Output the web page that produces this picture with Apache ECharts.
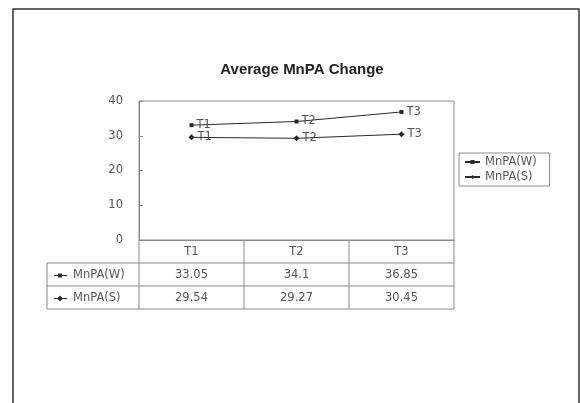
<!DOCTYPE html>
<html><head><meta charset="utf-8">
<script src="https://cdn.jsdelivr.net/npm/echarts@6/dist/echarts.min.js"></script>
<style>html,body{margin:0;padding:0;background:#fff}#c{width:580px;height:403px}</style>
</head><body><div id="c"></div>
<script>
const categories = ['T1', 'T2', 'T3'];
const seriesNames = ['MnPA(W)', 'MnPA(S)'];
const valuesW = [33.05, 34.1, 36.85];
const valuesS = [29.54, 29.27, 30.45];
const yMin = 0, yMax = 40, yStep = 10;
const titleText = 'Average MnPA Change';

const font = '"DejaVu Sans", Arial, sans-serif';
const titleFont = '"Liberation Sans", Arial, sans-serif';
const lineColor = '#2a2a2a';
const gridColor = '#8a8a8a';
const textColor = '#555';

const chart = echarts.init(document.getElementById('c'));
chart.setOption({
  animation: false,
  textStyle: { fontFamily: font },
  title: {
    text: titleText, left: 297, top: 57, textAlign: 'center',
    textStyle: { fontFamily: titleFont, fontWeight: 'bold', fontSize: 15, color: '#222' }
  },
  grid: { left: 139, right: 126, top: 101, bottom: 163, show: true, borderColor: gridColor, borderWidth: 1 },
  legend: {
    data: seriesNames, orient: 'vertical', left: 459, top: 153,
    itemWidth: 15, itemHeight: 5, itemGap: 3, padding: [3, 13, 3, 5],
    borderColor: gridColor, borderWidth: 1,
    textStyle: { fontFamily: font, fontSize: 11.5, color: textColor }
  },
  xAxis: {
    type: 'category', data: categories, boundaryGap: true,
    axisLine: { show: true, lineStyle: { color: gridColor } },
    axisTick: { show: false }, axisLabel: { show: false }
  },
  yAxis: {
    type: 'value', min: yMin, max: yMax, interval: yStep,
    axisLine: { show: true, lineStyle: { color: gridColor } },
    axisTick: { show: true, inside: true, length: 4, lineStyle: { color: gridColor } },
    splitLine: { show: false },
    axisLabel: { color: textColor, fontSize: 11.5, margin: 16, fontFamily: font }
  },
  series: [
    {
      name: seriesNames[0], type: 'line', data: valuesW, symbol: 'rect', symbolSize: 4,
      lineStyle: { color: lineColor, width: 1 }, itemStyle: { color: lineColor },
      label: { show: true, position: 'right', formatter: '{b}', color: textColor, fontSize: 11.5, distance: 3, fontFamily: font }
    },
    {
      name: seriesNames[1], type: 'line', data: valuesS, symbol: 'diamond', symbolSize: 6,
      lineStyle: { color: lineColor, width: 1 }, itemStyle: { color: lineColor },
      label: { show: true, position: 'right', formatter: '{b}', color: textColor, fontSize: 11.5, distance: 3, fontFamily: font }
    }
  ]
});

// Build frame + data table from the arrays, positioned via the chart's own scales
const xs = categories.map(c => chart.convertToPixel({ xAxisIndex: 0 }, c));
const half = (xs[1] - xs[0]) / 2;
const tLeft = xs[0] - half, tRight = xs[xs.length - 1] + half;
const y0 = chart.convertToPixel({ yAxisIndex: 0 }, yMin);
const headH = 23, rowH = 23, labelLeft = 47;
const rows = [valuesW, valuesS];
const symbols = ['rect', 'diamond'];
const g = [];
const line = (x1, y1, x2, y2) => g.push({ type: 'line', shape: { x1, y1, x2, y2 }, style: { stroke: gridColor, lineWidth: 1 }, silent: true });
const text = (x, y, t, align) => g.push({ type: 'text', x, y, style: { text: t, fill: textColor, font: '11.5px ' + font, textAlign: align || 'center', textVerticalAlign: 'middle' }, silent: true });

// chart area frame
g.push({ type: 'rect', shape: { x: 13, y: 9, width: 566, height: 430 }, style: { fill: null, stroke: '#333', lineWidth: 1.5 }, silent: true });

const hBottom = y0 + headH;
const tBottom = hBottom + rowH * rows.length;
line(tLeft, hBottom, tRight, hBottom);
categories.forEach((c, i) => text(xs[i], y0 + headH / 2 + 1, c));
for (let i = 0; i <= categories.length; i++) {
  const x = tLeft + i * 2 * half;
  line(x, y0, x, tBottom);
}
line(labelLeft, hBottom, labelLeft, tBottom);
line(labelLeft, hBottom, tLeft, hBottom);
rows.forEach((vals, r) => {
  const yb = hBottom + rowH * (r + 1);
  line(labelLeft, yb, tRight, yb);
  const yc = hBottom + rowH * r + rowH / 2 + 1;
  vals.forEach((v, i) => text(xs[i], yc, String(v)));
  g.push({ type: 'line', shape: { x1: labelLeft + 7, y1: yc, x2: labelLeft + 20, y2: yc }, style: { stroke: lineColor, lineWidth: 1 }, silent: true });
  if (symbols[r] === 'rect') {
    g.push({ type: 'rect', shape: { x: labelLeft + 11, y: yc - 2, width: 4, height: 4 }, style: { fill: lineColor }, silent: true });
  } else {
    g.push({ type: 'polygon', shape: { points: [[labelLeft + 13, yc - 3], [labelLeft + 16, yc], [labelLeft + 13, yc + 3], [labelLeft + 10, yc]] }, style: { fill: lineColor }, silent: true });
  }
  g.push({ type: 'text', x: labelLeft + 26, y: yc, style: { text: seriesNames[r], fill: textColor, font: '11.5px ' + font, textAlign: 'left', textVerticalAlign: 'middle' }, silent: true });
});
chart.setOption({ graphic: g });
</script>
</body></html>
